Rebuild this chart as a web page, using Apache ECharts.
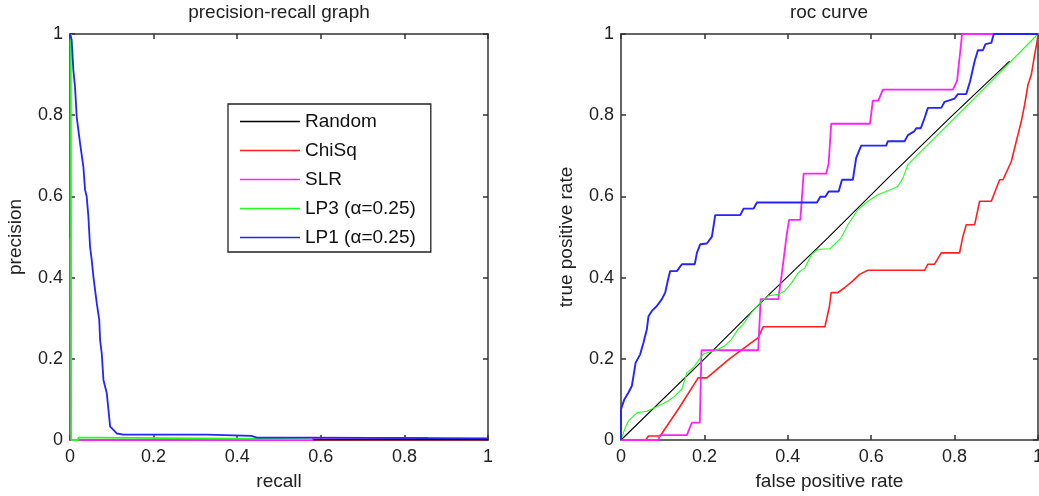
<!DOCTYPE html>
<html>
<head>
<meta charset="utf-8">
<script src="https://cdn.jsdelivr.net/npm/echarts@6/dist/echarts.min.js"></script>
<style>
  html, body { margin: 0; padding: 0; background: #fff; }
  #chart { width: 1039px; height: 496px; }
</style>
</head>
<body>
<div id="chart"></div>
<script>
// Series names, in legend order
const seriesNames = ['Random', 'ChiSq', 'SLR', 'LP3 (\u03b1=0.25)', 'LP1 (\u03b1=0.25)'];
const seriesColors = ['#000000', '#ff1f1f', '#ff1fff', '#1fff1f', '#2424ff'];

// Precision-recall curves: [recall, precision]
const prRandom = [[0, 0.001], [1, 0.001]];
const prChiSq = [[0, 0], [1, 0]];
const prSLR = [[0, 0.5], [0.002, 0], [0.58, 0], [0.582, 0.005], [0.857, 0.005]];
const prLP3 = [[0.002, 1], [0.003, 0], [0.02, 0], [0.02, 0.006], [0.064, 0.006], [0.064, 0.002], [0.578, 0.002]];
const prLP1 = [
  [0, 1], [0.004, 0.985], [0.008, 0.911], [0.012, 0.87], [0.016, 0.796], [0.024, 0.731],
  [0.032, 0.673], [0.036, 0.616], [0.04, 0.599], [0.044, 0.55], [0.048, 0.476], [0.052, 0.443],
  [0.056, 0.402], [0.064, 0.337], [0.07, 0.296], [0.072, 0.246], [0.076, 0.213], [0.08, 0.148],
  [0.088, 0.115], [0.092, 0.074], [0.096, 0.033], [0.104, 0.025], [0.112, 0.016], [0.128, 0.013],
  [0.327, 0.013], [0.327, 0.01], [0.434, 0.01], [0.434, 0.008], [0.447, 0.006], [0.578, 0.006],
  [0.578, 0.004], [1, 0.004]
];

// ROC curves: [false positive rate, true positive rate]
const rocRandom = [[0, 0], [0.2, 0.2], [0.35, 0.353], [0.496, 0.498], [0.64, 0.645], [0.788, 0.793], [0.932, 0.933]];
const rocChiSq = [
  [0, 0], [0.059, 0], [0.066, 0.01], [0.094, 0.01], [0.14, 0.08], [0.185, 0.153], [0.206, 0.153],
  [0.26, 0.2], [0.329, 0.252], [0.341, 0.279], [0.489, 0.279], [0.5, 0.33], [0.504, 0.363],
  [0.52, 0.363], [0.536, 0.375], [0.556, 0.392], [0.572, 0.408], [0.592, 0.418], [0.728, 0.418],
  [0.736, 0.433], [0.752, 0.433], [0.768, 0.461], [0.812, 0.461], [0.82, 0.502], [0.828, 0.53],
  [0.848, 0.53], [0.86, 0.588], [0.888, 0.588], [0.908, 0.641], [0.916, 0.641], [0.936, 0.686],
  [0.948, 0.736], [0.96, 0.785], [0.968, 0.826], [0.976, 0.875], [0.984, 0.9], [0.992, 0.949],
  [0.998, 0.982], [1, 1]
];
const rocSLR = [
  [0, 0], [0.09, 0], [0.093, 0.012], [0.158, 0.012], [0.17, 0.043], [0.189, 0.043], [0.193, 0.221],
  [0.329, 0.221], [0.335, 0.347], [0.377, 0.347], [0.385, 0.404], [0.397, 0.502], [0.403, 0.542],
  [0.43, 0.542], [0.438, 0.656], [0.492, 0.656], [0.498, 0.681], [0.504, 0.779], [0.597, 0.779],
  [0.604, 0.836], [0.617, 0.836], [0.628, 0.863], [0.796, 0.863], [0.806, 0.885], [0.818, 1],
  [1, 1]
];
const rocLP3 = [
  [0, 0], [0.01, 0.03], [0.018, 0.047], [0.038, 0.067], [0.062, 0.071], [0.089, 0.084],
  [0.113, 0.096], [0.129, 0.108], [0.146, 0.125], [0.158, 0.166], [0.173, 0.178], [0.185, 0.195],
  [0.197, 0.211], [0.206, 0.215], [0.225, 0.219], [0.249, 0.232], [0.265, 0.248], [0.281, 0.273],
  [0.293, 0.285], [0.313, 0.314], [0.337, 0.342], [0.353, 0.355], [0.377, 0.359], [0.393, 0.367],
  [0.409, 0.387], [0.425, 0.412], [0.441, 0.424], [0.457, 0.457], [0.473, 0.47], [0.501, 0.471],
  [0.528, 0.498], [0.544, 0.53], [0.568, 0.567], [0.592, 0.588], [0.616, 0.604], [0.648, 0.617],
  [0.664, 0.625], [0.676, 0.645], [0.688, 0.678], [0.704, 0.695], [0.848, 0.842], [1, 1]
];
const rocLP1 = [
  [0, 0], [0, 0.076], [0.008, 0.1], [0.018, 0.117], [0.026, 0.133], [0.03, 0.158], [0.035, 0.19],
  [0.046, 0.211], [0.054, 0.24], [0.062, 0.273], [0.066, 0.305], [0.074, 0.318], [0.086, 0.33],
  [0.098, 0.347], [0.106, 0.363], [0.113, 0.396], [0.118, 0.416], [0.134, 0.416], [0.146, 0.433],
  [0.177, 0.433], [0.182, 0.461], [0.19, 0.482], [0.206, 0.484], [0.218, 0.501], [0.226, 0.554],
  [0.286, 0.554], [0.294, 0.57], [0.318, 0.57], [0.326, 0.585], [0.47, 0.585], [0.478, 0.599],
  [0.49, 0.599], [0.498, 0.612], [0.522, 0.612], [0.53, 0.641], [0.556, 0.641], [0.564, 0.695],
  [0.576, 0.725], [0.636, 0.725], [0.64, 0.736], [0.68, 0.736], [0.688, 0.751], [0.703, 0.76],
  [0.708, 0.768], [0.719, 0.768], [0.728, 0.793], [0.736, 0.818], [0.768, 0.818], [0.776, 0.833],
  [0.8, 0.841], [0.808, 0.852], [0.828, 0.852], [0.837, 0.883], [0.848, 0.933], [0.856, 0.96],
  [0.868, 0.96], [0.874, 0.975], [0.888, 0.978], [0.894, 1], [1, 1]
];

const prData = [prRandom, prChiSq, prSLR, prLP3, prLP1];
const rocData = [rocRandom, rocChiSq, rocSLR, rocLP3, rocLP1];

const FONT = '"Liberation Sans", Arial, Helvetica, sans-serif';
const FRAME = '#333333';
const TEXT = '#222222';

function boxAxis(gridIndex, position, labelled, extra) {
  return Object.assign({
    type: 'value', gridIndex, position, min: 0, max: 1, interval: 0.2,
    axisLine: { show: true, onZero: false, lineStyle: { color: FRAME, width: 1.5 } },
    axisTick: { show: true, inside: true, length: 5, lineStyle: { color: FRAME, width: 1.5 } },
    axisLabel: { show: labelled, color: TEXT, fontSize: 18, fontFamily: FONT, margin: 8 },
    splitLine: { show: false }
  }, extra || {});
}

const nameStyle = { color: TEXT, fontSize: 19, fontFamily: FONT };

// Legend icon: a thin horizontal bar centred in a 60x19 box
const legendIcon = 'path://M0,0 L0,0 M0,8.7 L60,8.7 L60,10.3 L0,10.3 Z M60,19 L60,19';

function makeSeries(datasets, axisIdx, widths) {
  // Draw order puts ChiSq underneath, others on top
  const order = [1, 0, 2, 3, 4];
  return order.map(i => ({
    name: seriesNames[i], type: 'line', xAxisIndex: axisIdx, yAxisIndex: axisIdx,
    data: datasets[i], symbol: 'none', showSymbol: false, silent: true,
    lineStyle: { color: seriesColors[i], width: widths[i] },
    itemStyle: { color: seriesColors[i] }
  }));
}

const chart = echarts.init(document.getElementById('chart'), null, { renderer: 'canvas' });
chart.setOption({
  animation: false,
  backgroundColor: '#ffffff',
  title: [
    { text: 'precision-recall graph', left: 279, top: 3, padding: 0, textAlign: 'center',
      textStyle: { color: TEXT, fontSize: 19, fontWeight: 'normal', fontFamily: FONT } },
    { text: 'roc curve', left: 829, top: 3, padding: 0, textAlign: 'center',
      textStyle: { color: TEXT, fontSize: 19, fontWeight: 'normal', fontFamily: FONT } }
  ],
  legend: {
    data: seriesNames.map(n => ({ name: n, icon: legendIcon })),
    orient: 'vertical', left: 228, top: 104,
    itemWidth: 60, itemHeight: 19, itemGap: 10,
    padding: [8, 15, 5, 12],
    backgroundColor: '#ffffff', borderColor: '#222222', borderWidth: 1.3, borderRadius: 0,
    textStyle: { color: '#111111', fontSize: 19, fontFamily: FONT },
    selectedMode: false
  },
  grid: [
    { left: 70, top: 34, width: 418, height: 406, containLabel: false, outerBoundsMode: 'none' },
    { left: 621, top: 34, width: 417, height: 406, containLabel: false, outerBoundsMode: 'none' }
  ],
  xAxis: [
    boxAxis(0, 'bottom', true, { name: 'recall', nameLocation: 'middle', nameGap: 32, nameTextStyle: nameStyle }),
    boxAxis(0, 'top', false),
    boxAxis(1, 'bottom', true, { name: 'false positive rate', nameLocation: 'middle', nameGap: 32, nameTextStyle: nameStyle }),
    boxAxis(1, 'top', false)
  ],
  yAxis: [
    boxAxis(0, 'left', true, { name: 'precision', nameLocation: 'middle', nameGap: 45, nameTextStyle: nameStyle,
      axisLabel: { show: true, color: TEXT, fontSize: 18, fontFamily: FONT, margin: 7 } }),
    boxAxis(0, 'right', false),
    boxAxis(1, 'left', true, { name: 'true positive rate', nameLocation: 'middle', nameGap: 45, nameTextStyle: nameStyle,
      axisLabel: { show: true, color: TEXT, fontSize: 18, fontFamily: FONT, margin: 7 } }),
    boxAxis(1, 'right', false)
  ],
  series: [
    ...makeSeries(prData, 0, [1.3, 1.5, 1.8, 1.8, 1.8]),
    ...makeSeries(rocData, 2, [1.1, 1.6, 1.8, 1.1, 1.9])
  ]
});
</script>
</body>
</html>
